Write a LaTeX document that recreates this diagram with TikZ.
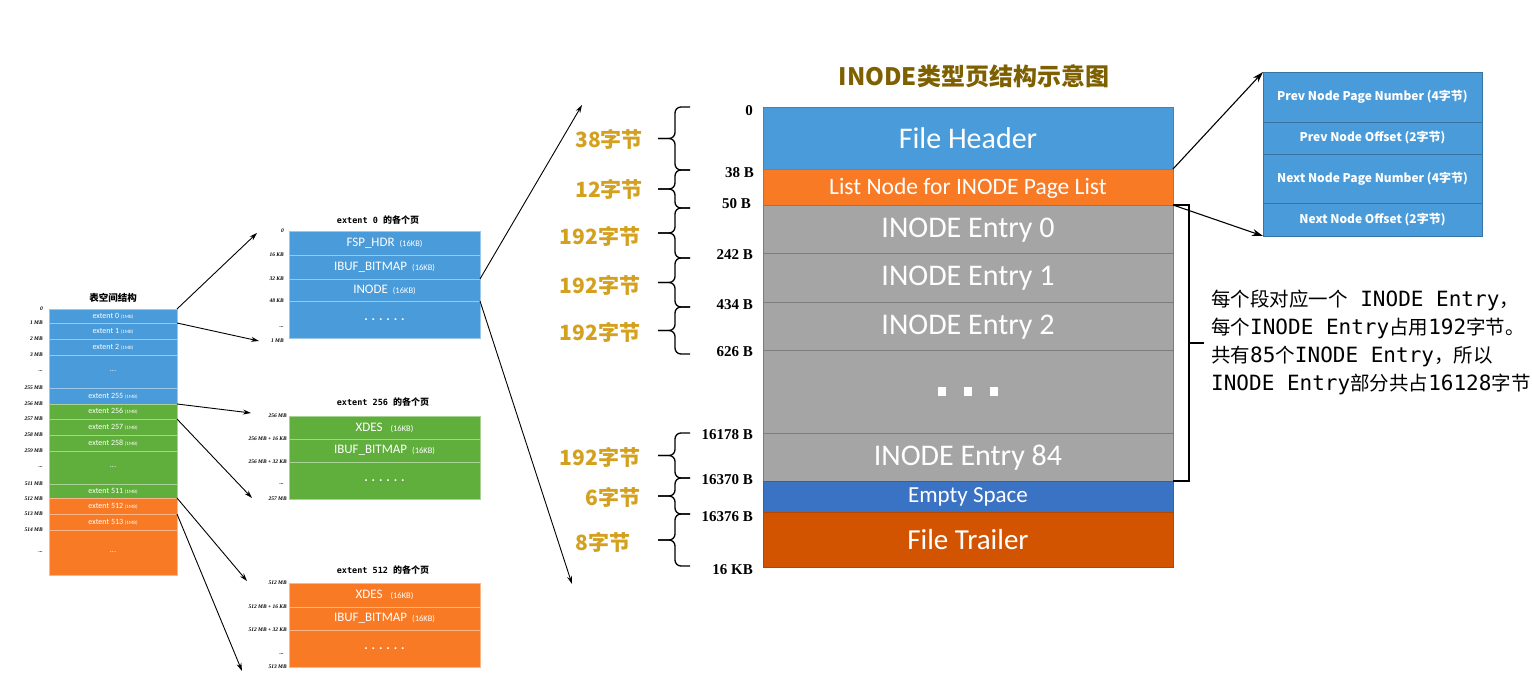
\documentclass[tikz,border=0pt]{standalone}
\usepackage{fontspec}
\setmainfont{Carlito}
\newfontfamily\cjk{Noto Sans CJK SC}
\newfontfamily\mono{DejaVu Sans Mono}
\newfontfamily\tms{Liberation Serif}
\usetikzlibrary{arrows.meta,calc}
\definecolor{cBlue}{HTML}{4A9BD9}
\definecolor{cOrange}{HTML}{F97A25}
\definecolor{cGreen}{HTML}{60AF3D}
\definecolor{cGray}{HTML}{A5A5A5}
\definecolor{cEmpty}{HTML}{3A72C4}
\definecolor{cTrailer}{HTML}{D35400}
\definecolor{cGold}{HTML}{D4A020}
\definecolor{cTitle}{HTML}{7F6000}
\newcommand\smx[1]{{\fontsize{5}{6}\selectfont #1}}
\newcommand\smm[1]{{\fontsize{8.5}{9}\selectfont #1}}
\newcommand\Mo[1]{{\mono\fontsize{21}{28}\selectfont #1}}
\newcommand\mtitle[1]{{\mono\bfseries\fontsize{8.5}{9}\selectfont extent #1 }{\cjk\bfseries\fontsize{9}{10}\selectfont 的各个页}}
\newcommand\mybrace[2]{%
  \pgfmathsetmacro\bm{(#1+#2)/2}%
  \draw[brc] (690,#1) -- (675,#1) -- (675,\bm) -- (658,\bm);
  \draw[brc] (690,#2) -- (675,#2) -- (675,\bm) -- (658,\bm);}
\tikzset{
  cell/.style={anchor=north west, inner sep=0pt, outer sep=0pt, text=white, align=center, line width=0.6pt},
  bigf/.style={font=\fontsize{30}{32}\selectfont},
  offl/.style={anchor=east, inner sep=0pt, font=\tms\bfseries\fontsize{15}{16}\selectfont},
  gold/.style={text=cGold, inner sep=0pt, font=\cjk\bfseries\fontsize{21}{22}\selectfont},
  tnl/.style={anchor=east, inner sep=0pt, font=\tms\bfseries\itshape\fontsize{5.5}{6}\selectfont},
  brc/.style={line width=1.3pt, rounded corners=6pt},
  arrA/.style={line width=1.1pt, -{Stealth[length=11pt,width=7pt]}},
  arrB/.style={line width=0.9pt, -{Stealth[length=8pt,width=5pt]}},
  lrow/.style={cell, minimum width=128pt, font=\fontsize{8}{9}\selectfont},
  mrow/.style={cell, minimum width=191pt, font=\fontsize{13}{14}\selectfont},
  rrow/.style={cell, minimum width=219pt, fill=cBlue, draw=cBlue!75!black, font=\cjk\bfseries\fontsize{12}{13}\selectfont},
  lb/.style={fill=cBlue, draw=cBlue!55!white},
  lg/.style={fill=cGreen, draw=cGreen!55!white},
  lo/.style={fill=cOrange, draw=cOrange!55!white},
  dotsf/.style={font=\bfseries\fontsize{13}{14}\selectfont},
}
\begin{document}
\begin{tikzpicture}[x=1pt,y=-1pt]
\useasboundingbox (0,0) rectangle (1532,700);
\fill[white] (0,0) rectangle (1532,700);

% ---------- left: tablespace ----------
\node[font=\cjk\bfseries\fontsize{9.5}{10}\selectfont, inner sep=0] (ltitle) at (113,298) {表空间结构};
\node[lrow, lb, minimum height=14pt] (x0) at (49,309) {extent 0 \smx{(1MB)}};
\node[lrow, lb, minimum height=16pt] (x1) at (49,323) {extent 1 \smx{(1MB)}};
\node[lrow, lb, minimum height=16pt] (x2) at (49,339) {extent 2 \smx{(1MB)}};
\node[lrow, lb, minimum height=33pt] (xd1) at (49,355) {...};
\node[lrow, lb, minimum height=16pt] (x255) at (49,388) {extent 255 \smx{(1MB)}};
\node[lrow, lg, minimum height=15pt] (x256) at (49,404) {extent 256 \smx{(1MB)}};
\node[lrow, lg, minimum height=16pt] (x257) at (49,419) {extent 257 \smx{(1MB)}};
\node[lrow, lg, minimum height=16pt] (x258) at (49,435) {extent 258 \smx{(1MB)}};
\node[lrow, lg, minimum height=33pt] (xd2) at (49,451) {...};
\node[lrow, lg, minimum height=14pt] (x511) at (49,484) {extent 511 \smx{(1MB)}};
\node[lrow, lo, minimum height=16pt] (x512) at (49,498) {extent 512 \smx{(1MB)}};
\node[lrow, lo, minimum height=16pt] (x513) at (49,514) {extent 513 \smx{(1MB)}};
\node[lrow, lo, minimum height=45pt] (xd3) at (49,530) {...};

\node[tnl] (la0) at (43,309) {0};
\node[tnl] (la1) at (43,323) {1 MB};
\node[tnl] (la2) at (43,339) {2 MB};
\node[tnl] (la3) at (43,355) {3 MB};
\node[tnl] (la4) at (43,371) {...};
\node[tnl] (la5) at (43,388) {255 MB};
\node[tnl] (la6) at (43,404) {256 MB};
\node[tnl] (la7) at (43,419) {257 MB};
\node[tnl] (la8) at (43,435) {258 MB};
\node[tnl] (la9) at (43,451) {259 MB};
\node[tnl] (la10) at (43,467) {...};
\node[tnl] (la11) at (43,484) {511 MB};
\node[tnl] (la12) at (43,499) {512 MB};
\node[tnl] (la13) at (43,514) {513 MB};
\node[tnl] (la14) at (43,530) {514 MB};
\node[tnl] (la15) at (43,552) {...};

% ---------- middle: extent pages ----------
\node[inner sep=0] (mt0) at (378,220) {\mtitle{0}};
\node[mrow, lb, minimum height=24pt] (m0a) at (289,231) {FSP\_HDR\hspace{5pt}\smm{(16KB)}};
\node[mrow, lb, minimum height=24pt] (m0b) at (289,255) {IBUF\_BITMAP\hspace{5pt}\smm{(16KB)}};
\node[mrow, lb, minimum height=22pt] (m0c) at (289,279) {INODE\hspace{5pt}\smm{(16KB)}};
\node[mrow, lb, minimum height=37pt, dotsf] (m0d) at (289,301) {. . . . . .};
\node[tnl] (ma0) at (284,231) {0};
\node[tnl] (ma1) at (284,255) {16 KB};
\node[tnl] (ma2) at (284,279) {32 KB};
\node[tnl] (ma3) at (284,301) {48 KB};
\node[tnl] (ma4) at (284,327) {...};
\node[tnl] (ma5) at (284,341) {1 MB};

\node[inner sep=0] (mt1) at (383,402) {\mtitle{256}};
\node[mrow, lg, minimum height=23pt] (m1a) at (289,416) {XDES\hspace{8pt}\smm{(16KB)}};
\node[mrow, lg, minimum height=23pt] (m1b) at (289,439) {IBUF\_BITMAP\hspace{5pt}\smm{(16KB)}};
\node[mrow, lg, minimum height=37pt, dotsf] (m1c) at (289,462) {. . . . . .};
\node[tnl] (mb0) at (287,416) {256 MB};
\node[tnl] (mb1) at (287,439) {256 MB + 16 KB};
\node[tnl] (mb2) at (287,462) {256 MB + 32 KB};
\node[tnl] (mb3) at (284,484) {...};
\node[tnl] (mb4) at (287,499) {257 MB};

\node[inner sep=0] (mt2) at (383,570) {\mtitle{512}};
\node[mrow, lo, minimum height=24pt] (m2a) at (289,583) {XDES\hspace{8pt}\smm{(16KB)}};
\node[mrow, lo, minimum height=23pt] (m2b) at (289,607) {IBUF\_BITMAP\hspace{5pt}\smm{(16KB)}};
\node[mrow, lo, minimum height=37pt, dotsf] (m2c) at (289,630) {. . . . . .};
\node[tnl] (mc0) at (287,583) {512 MB};
\node[tnl] (mc1) at (287,607) {512 MB + 16 KB};
\node[tnl] (mc2) at (287,630) {512 MB + 32 KB};
\node[tnl] (mc3) at (284,654) {...};
\node[tnl] (mc4) at (287,667) {513 MB};

% ---------- main INODE page ----------
\node[text=cTitle, inner sep=0, font=\cjk\bfseries\fontsize{24}{26}\selectfont] (title) at (974,76) {INODE类型页结构示意图};
\node[cell, bigf, fill=cBlue, draw=cBlue!85!black, minimum width=410pt, minimum height=62pt] (fh) at (763,107) {File Header};
\node[cell, fill=cOrange, draw=cOrange!85!black, minimum width=410pt, minimum height=36pt, font=\fontsize{23.5}{25}\selectfont, text depth=2pt] (ln) at (763,169) {List Node for INODE Page List};
\node[cell, bigf, fill=cGray, draw=cGray!75!black, minimum width=410pt, minimum height=48pt, text depth=3pt] (e0) at (763,205) {INODE Entry 0};
\node[cell, bigf, fill=cGray, draw=cGray!75!black, minimum width=410pt, minimum height=49pt, text depth=3pt] (e1) at (763,253) {INODE Entry 1};
\node[cell, bigf, fill=cGray, draw=cGray!75!black, minimum width=410pt, minimum height=48pt, text depth=3pt] (e2) at (763,302) {INODE Entry 2};
\node[cell, fill=cGray, draw=cGray!75!black, minimum width=410pt, minimum height=83pt] (ed) at (763,350) {\rule{8pt}{9pt}\hspace{18pt}\rule{8pt}{9pt}\hspace{18pt}\rule{8pt}{9pt}};
\node[cell, bigf, fill=cGray, draw=cGray!75!black, minimum width=410pt, minimum height=48pt, text depth=3pt] (e84) at (763,433) {INODE Entry 84};
\node[cell, fill=cEmpty, draw=cEmpty!85!black, minimum width=410pt, minimum height=31pt, font=\fontsize{23}{24}\selectfont, text depth=2pt] (es) at (763,481) {Empty Space};
\node[cell, fill=cTrailer, draw=cTrailer!85!black, minimum width=410pt, minimum height=55pt, font=\fontsize{29}{31}\selectfont] (ft) at (763,512) {File Trailer};

% offsets
\node[offl] (o0) at (753,111) {0};
\node[offl] (o1) at (754,173) {38 B};
\node[offl] (o2) at (751,204) {50 B};
\node[offl] (o3) at (753,255) {242 B};
\node[offl] (o4) at (753,305) {434 B};
\node[offl] (o5) at (753,352) {626 B};
\node[offl] (o6) at (753,435) {16178 B};
\node[offl] (o7) at (753,480) {16370 B};
\node[offl] (o8) at (753,517) {16376 B};
\node[offl] (o9) at (753,570) {16 KB};

% braces
\mybrace{107}{170}
\mybrace{170}{208}
\mybrace{208}{258}
\mybrace{258}{307}
\mybrace{307}{354}
\mybrace{433}{478}
\mybrace{478}{514}
\mybrace{514}{566}

% byte counts
\node[gold] (g0) at (609,139) {38字节};
\node[gold] (g1) at (609,189) {12字节};
\node[gold] (g2) at (600,236) {192字节};
\node[gold] (g3) at (600,285) {192字节};
\node[gold] (g4) at (600,332) {192字节};
\node[gold] (g5) at (600,457) {192字节};
\node[gold] (g6) at (613,497) {6字节};
\node[gold] (g7) at (603,542) {8字节};

% ---------- right: list node detail ----------
\node[rrow, minimum height=50pt] (rb1) at (1263,72) {Prev Node Page Number (4字节)};
\node[rrow, minimum height=32pt] (rb2) at (1263,122) {Prev Node Offset (2字节)};
\node[rrow, minimum height=49pt] (rb3) at (1263,154) {Next Node Page Number (4字节)};
\node[rrow, minimum height=33pt] (rb4) at (1263,203) {Next Node Offset (2字节)};

% bracket and note
\draw[line width=1.6pt] (e0.north east) -- ++(16,0) |- (e84.south east);
\draw[line width=1.6pt] ($(e0.north east)!0.5!(e84.south east)+(16,0)$) -- ++(15,0);
\node[anchor=north west, inner sep=0, align=left, font=\cjk\fontsize{19.5}{28}\selectfont] (note) at (1211,290)
 {每个段对应一个\Mo{ INODE Entry}，\\
  每个\Mo{INODE Entry}占用\Mo{192}字节。\\
  共有\Mo{85}个\Mo{INODE Entry}，所以\\
  \Mo{INODE Entry}部分共占\Mo{16128}字节};

% ---------- connectors ----------
\coordinate (t1) at (257,233);
\coordinate (t2) at (259,341);
\coordinate (t3) at (251,413);
\coordinate (t4) at (252,498);
\coordinate (t5) at (247,581);
\coordinate (t6) at (242,671);
\coordinate (t7) at (582,105);
\coordinate (t8) at (572,584);
\draw[arrB] (x0.north east) -- (t1);
\draw[arrB] (x0.south east) -- (t2);
\draw[arrB] (x256.north east) -- (t3);
\draw[arrB] (x256.south east) -- (t4);
\draw[arrB] (x512.north east) -- (t5);
\draw[arrB] (x512.south east) -- (t6);
\draw[arrB] (m0c.north east) -- (t7);
\draw[arrB] (m0c.south east) -- (t8);
\draw[arrA] (ln.north east) -- (rb1.north west);
\draw[arrA] (e0.north east) -- (rb4.south west);
\end{tikzpicture}
\end{document}
